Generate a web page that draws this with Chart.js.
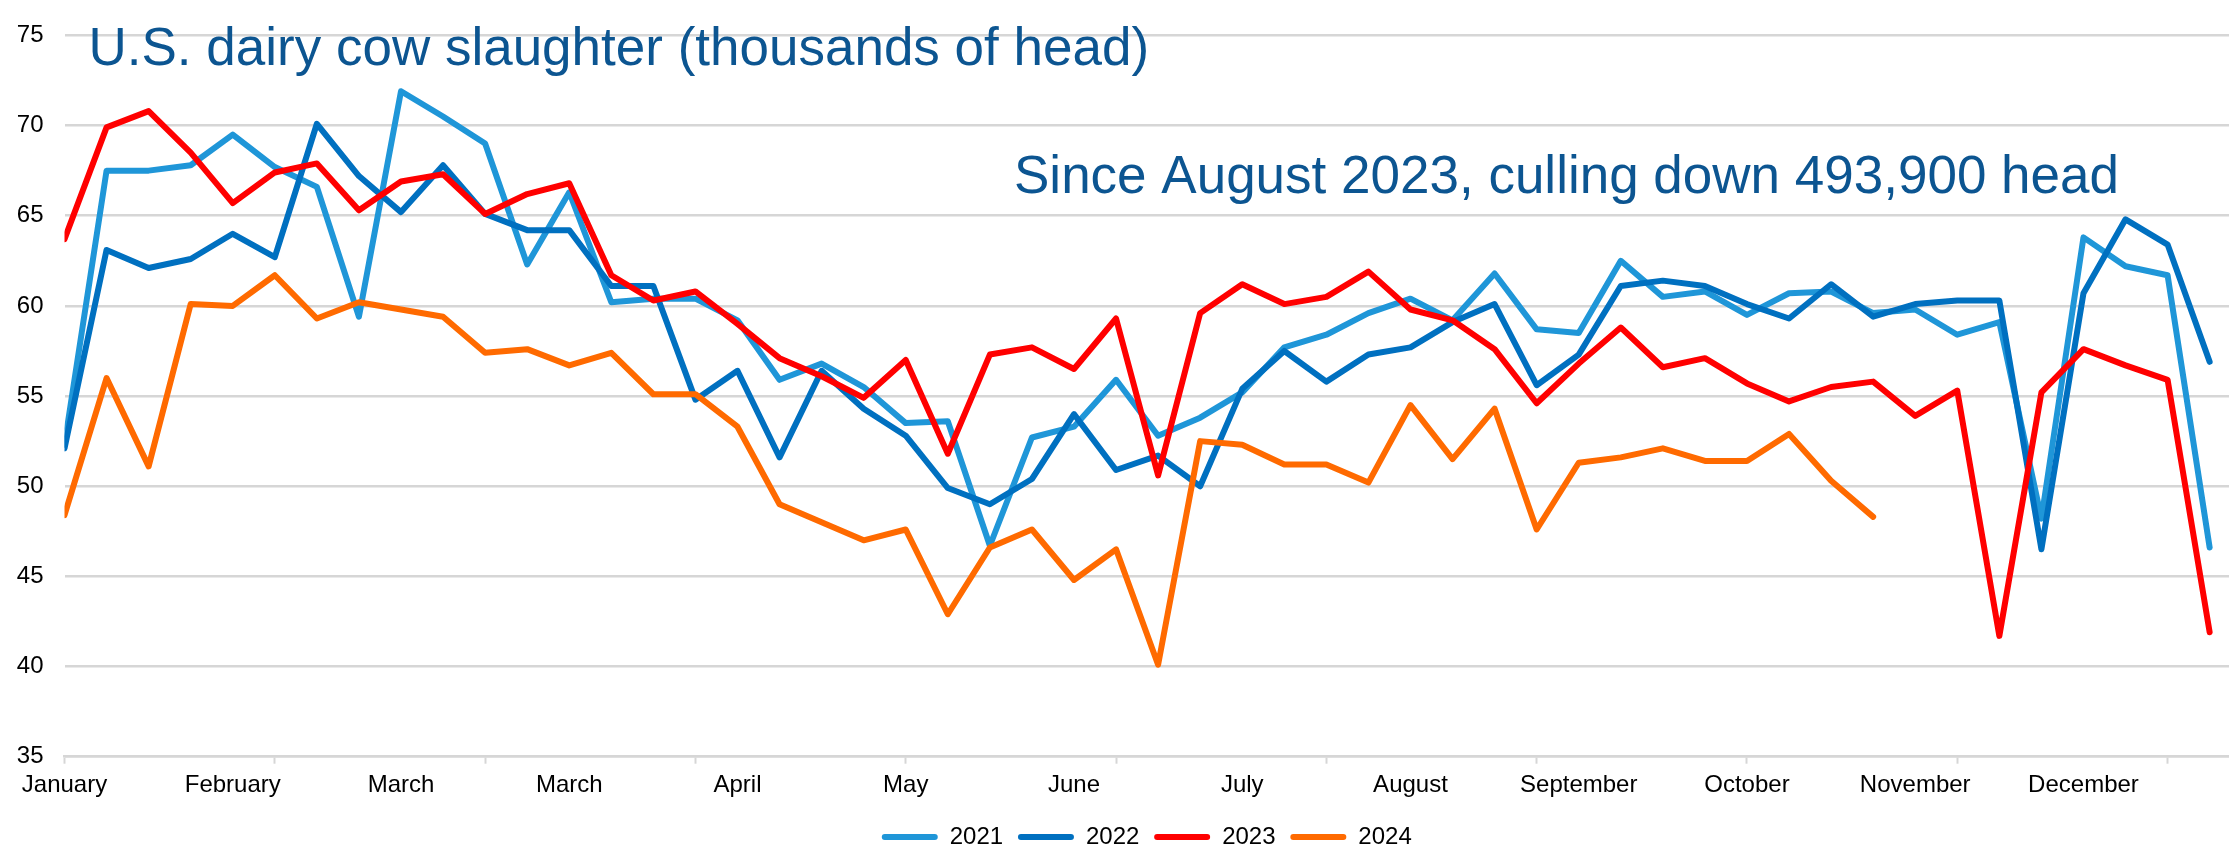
<!DOCTYPE html>
<html lang="en">
<head>
<meta charset="UTF-8">
<title>U.S. dairy cow slaughter</title>
<script src="https://cdn.jsdelivr.net/npm/chart.js"></script>
<style>
  html, body { margin: 0; padding: 0; background: #fff; }
  canvas { display: block; }
</style>
</head>
<body>
<canvas id="chart" width="2229" height="848"></canvas>
<script>
// month labels, one every 4 weeks
const monthLabels = ['January', 'February', 'March', 'March', 'April', 'May', 'June',
  'July', 'August', 'September', 'October', 'November', 'December'];
const yTicks = [35, 40, 45, 50, 55, 60, 65, 70, 75];

// weekly slaughter, thousands of head
const y2021 = [52.3, 67.5, 67.5, 67.8, 69.5, 67.7, 66.6, 59.4, 71.9, 70.5, 69.0, 62.3, 66.3,
  60.2, 60.4, 60.4, 59.2, 55.9, 56.8, 55.5, 53.5, 53.6, 46.7, 52.7, 53.3, 55.9, 52.8,
  53.8, 55.2, 57.7, 58.4, 59.6, 60.4, 59.2, 61.8, 58.7, 58.5, 62.5, 60.5, 60.8, 59.5,
  60.7, 60.8, 59.6, 59.8, 58.4, 59.1, 48.2, 63.8, 62.2, 61.7, 46.6];
const y2022 = [52.1, 63.1, 62.1, 62.6, 64.0, 62.7, 70.1, 67.2, 65.2, 67.8, 65.1, 64.2, 64.2,
  61.1, 61.1, 54.8, 56.4, 51.6, 56.4, 54.3, 52.8, 49.9, 49.0, 50.4, 54.0, 50.9, 51.7,
  50.0, 55.4, 57.5, 55.8, 57.3, 57.7, 59.1, 60.1, 55.6, 57.3, 61.1, 61.4, 61.1, 60.1,
  59.3, 61.2, 59.4, 60.1, 60.3, 60.3, 46.5, 60.7, 64.8, 63.4, 56.9];
const y2023 = [63.7, 69.9, 70.8, 68.5, 65.7, 67.4, 67.9, 65.3, 66.9, 67.3, 65.1, 66.2, 66.8,
  61.7, 60.3, 60.8, 59.0, 57.1, 56.1, 54.9, 57.0, 51.8, 57.3, 57.7, 56.5, 59.3, 50.6,
  59.6, 61.2, 60.1, 60.5, 61.9, 59.8, 59.2, 57.6, 54.6, 56.8, 58.8, 56.6, 57.1, 55.7,
  54.7, 55.5, 55.8, 53.9, 55.3, 41.7, 55.2, 57.6, 56.7, 55.9, 41.9];
const y2024 = [48.4, 56.0, 51.1, 60.1, 60.0, 61.7, 59.3, 60.2, 59.8, 59.4, 57.4, 57.6, 56.7,
  57.4, 55.1, 55.1, 53.3, 49.0, 48.0, 47.0, 47.6, 42.9, 46.6, 47.6, 44.8, 46.5, 40.1,
  52.5, 52.3, 51.2, 51.2, 50.2, 54.5, 51.5, 54.3, 47.6, 51.3, 51.6, 52.1, 51.4, 51.4,
  52.9, 50.3, 48.3];

const FONT = "'Liberation Sans', Arial, sans-serif";
const GRID = '#d6d6d6';
const TEXT_BLUE = '#0c5591';

const toPoints = arr => arr.map((v, i) => ({ x: i, y: v }));

function series(label, values, color, order) {
  return {
    label: label,
    data: toPoints(values),
    borderColor: color,
    backgroundColor: color,
    borderWidth: 6,
    borderJoinStyle: 'round',
    borderCapStyle: 'round',
    pointRadius: 0,
    tension: 0,
    fill: false,
    order: order
  };
}

// title and note drawn inside the plot, like the original
const notes = {
  id: 'notes',
  afterDraw(chart) {
    const ctx = chart.ctx;
    ctx.save();
    ctx.fillStyle = TEXT_BLUE;
    ctx.font = '53px ' + FONT;
    ctx.textBaseline = 'alphabetic';
    ctx.textAlign = 'left';
    ctx.fillText('U.S. dairy cow slaughter (thousands of head)', 88.5, 65);
    ctx.fillText('Since August 2023, culling down 493,900 head', 1014, 193);
    ctx.restore();
  }
};

const chart = new Chart(document.getElementById('chart'), {
  type: 'line',
  data: {
    datasets: [
      series('2021', y2021, '#1f96d8', 3),
      series('2022', y2022, '#0070c0', 2),
      series('2023', y2023, '#ff0000', 1),
      series('2024', y2024, '#ff6a00', 0)
    ]
  },
  options: {
    responsive: false,
    animation: false,
    devicePixelRatio: 1,
    layout: { padding: { top: 23, right: -34.5, bottom: -11, left: 0 } },
    scales: {
      x: {
        type: 'linear',
        min: 0,
        max: 51.46,
        afterBuildTicks: s => {
          s.ticks = y2021.slice(0, 51).map((v, i) => ({ value: i }));
        },
        afterFit: s => { s.height = 53.5; },
        grid: {
          drawOnChartArea: false,
          drawTicks: true,
          tickLength: 7,
          tickWidth: 2,
          tickColor: c => (c.tick && c.tick.value % 5 === 0) ? GRID : 'rgba(0,0,0,0)'
        },
        border: { color: GRID, width: 2.5 },
        ticks: {
          autoSkip: false,
          maxRotation: 0,
          padding: 7,
          color: '#000',
          font: { family: FONT, size: 24 },
          callback: v => (v % 4 === 0) ? monthLabels[v / 4] : ''
        }
      },
      y: {
        min: yTicks[0],
        max: yTicks[yTicks.length - 1],
        afterBuildTicks: s => { s.ticks = yTicks.map(v => ({ value: v })); },
        afterFit: s => { s.width = 64.5; },
        grid: { color: GRID, lineWidth: 2.5, drawTicks: false },
        border: { display: false },
        ticks: {
          padding: 21,
          color: '#000',
          font: { family: FONT, size: 24 }
        }
      }
    },
    plugins: {
      title: { display: false },
      tooltip: { enabled: false },
      legend: {
        position: 'bottom',
        fullSize: false,
        labels: {
          boxWidth: 56,
          boxHeight: 6,
          padding: 14.8,
          useBorderRadius: true,
          borderRadius: 3,
          color: '#000',
          font: { family: FONT, size: 24 },
          sort: (a, b) => a.datasetIndex - b.datasetIndex,
          generateLabels: c => Chart.defaults.plugins.legend.labels.generateLabels(c)
            .map(l => Object.assign(l, { lineWidth: 0 }))
        }
      }
    }
  },
  plugins: [notes]
});
</script>
</body>
</html>
